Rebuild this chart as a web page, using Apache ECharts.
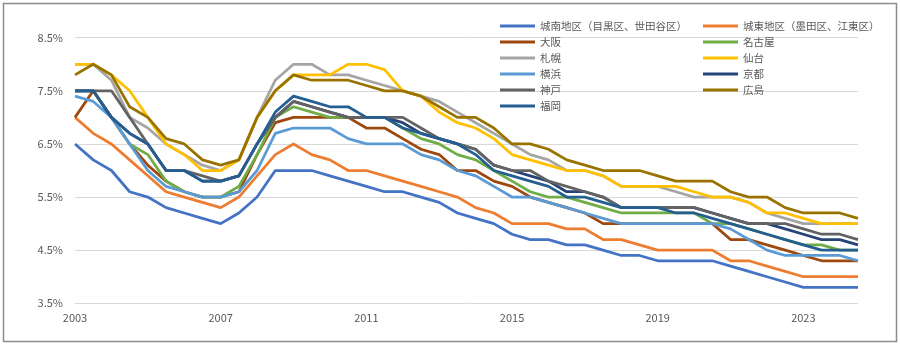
<!DOCTYPE html>
<html>
<head>
<meta charset="utf-8">
<script src="https://cdn.jsdelivr.net/npm/echarts@6/dist/echarts.min.js"></script>
<style>
  html, body { margin: 0; padding: 0; background: #ffffff; }
  #chart { width: 900px; height: 348px; }
</style>
</head>
<body>
<div id="chart"></div>
<script>
// Half-yearly survey points, 2003 to 2024 (two per year)
const years = [];
for (let y = 2003; y <= 2024; y++) { years.push(String(y), String(y)); }

const jonan   = [6.5,6.2,6.0,5.6,5.5,5.3,5.2,5.1,5.0,5.2,5.5,6.0,6.0,6.0,5.9,5.8,5.7,5.6,5.6,5.5,5.4,5.2,5.1,5.0,4.8,4.7,4.7,4.6,4.6,4.5,4.4,4.4,4.3,4.3,4.3,4.3,4.2,4.1,4.0,3.9,3.8,3.8,3.8,3.8];
const joto    = [7.0,6.7,6.5,6.2,5.9,5.6,5.5,5.4,5.3,5.5,5.9,6.3,6.5,6.3,6.2,6.0,6.0,5.9,5.8,5.7,5.6,5.5,5.3,5.2,5.0,5.0,5.0,4.9,4.9,4.7,4.7,4.6,4.5,4.5,4.5,4.5,4.3,4.3,4.2,4.1,4.0,4.0,4.0,4.0];
const osaka   = [7.0,7.5,7.0,6.5,6.1,5.8,5.6,5.5,5.5,5.6,6.3,6.9,7.0,7.0,7.0,7.0,6.8,6.8,6.6,6.4,6.3,6.0,6.0,5.8,5.7,5.5,5.4,5.3,5.2,5.0,5.0,5.0,5.0,5.0,5.0,5.0,4.7,4.7,4.6,4.5,4.4,4.3,4.3,4.3];
const nagoya  = [7.5,7.5,7.0,6.5,6.3,5.8,5.6,5.5,5.5,5.7,6.3,7.0,7.2,7.1,7.0,7.0,7.0,7.0,6.8,6.6,6.5,6.3,6.2,6.0,5.8,5.6,5.5,5.5,5.4,5.3,5.2,5.2,5.2,5.2,5.2,5.0,5.0,4.9,4.8,4.7,4.6,4.6,4.5,4.5];
const sapporo = [8.0,8.0,7.7,7.0,6.8,6.5,6.3,6.1,6.0,6.2,7.0,7.7,8.0,8.0,7.8,7.8,7.7,7.6,7.5,7.4,7.3,7.1,6.9,6.7,6.5,6.3,6.2,6.0,6.0,5.9,5.7,5.7,5.7,5.6,5.5,5.5,5.5,5.4,5.2,5.1,5.0,5.0,5.0,5.0];
const sendai  = [8.0,8.0,7.8,7.5,7.0,6.5,6.3,6.0,6.0,6.2,7.0,7.5,7.8,7.8,7.8,8.0,8.0,7.9,7.5,7.4,7.1,6.9,6.8,6.6,6.3,6.2,6.1,6.0,6.0,5.9,5.7,5.7,5.7,5.7,5.6,5.5,5.5,5.4,5.2,5.2,5.1,5.0,5.0,5.0];
const yokohama= [7.4,7.3,7.0,6.5,6.0,5.7,5.6,5.5,5.5,5.6,6.0,6.7,6.8,6.8,6.8,6.6,6.5,6.5,6.5,6.3,6.2,6.0,5.9,5.7,5.5,5.5,5.4,5.3,5.2,5.1,5.0,5.0,5.0,5.0,5.0,5.0,4.9,4.7,4.5,4.4,4.4,4.4,4.4,4.3];
const kyoto   = [7.5,7.5,7.0,6.7,6.5,6.0,6.0,5.8,5.8,5.9,6.5,7.0,7.3,7.2,7.1,7.0,7.0,7.0,6.9,6.7,6.6,6.5,6.4,6.1,6.0,5.9,5.8,5.6,5.6,5.5,5.3,5.3,5.3,5.3,5.3,5.2,5.1,5.0,5.0,4.9,4.8,4.7,4.7,4.6];
const kobe    = [7.5,7.5,7.5,7.0,6.5,6.0,6.0,5.9,5.8,5.9,6.5,7.0,7.3,7.2,7.1,7.0,7.0,7.0,7.0,6.8,6.6,6.5,6.4,6.1,6.0,6.0,5.8,5.7,5.6,5.5,5.3,5.3,5.3,5.3,5.3,5.2,5.1,5.0,5.0,5.0,4.9,4.8,4.8,4.7];
const hiroshima=[7.8,8.0,7.8,7.2,7.0,6.6,6.5,6.2,6.1,6.2,7.0,7.5,7.8,7.7,7.7,7.7,7.6,7.5,7.5,7.4,7.2,7.0,7.0,6.8,6.5,6.5,6.4,6.2,6.1,6.0,6.0,6.0,5.9,5.8,5.8,5.8,5.6,5.5,5.5,5.3,5.2,5.2,5.2,5.1];
const fukuoka = [7.5,7.5,7.0,6.7,6.5,6.0,6.0,5.8,5.8,5.9,6.5,7.1,7.4,7.3,7.2,7.2,7.0,7.0,6.8,6.7,6.6,6.5,6.3,6.0,5.9,5.8,5.7,5.5,5.5,5.4,5.3,5.3,5.3,5.2,5.2,5.1,5.0,4.9,4.8,4.7,4.6,4.5,4.5,4.5];

const seriesDefs = [
  { name: '城南地区（目黒区、世田谷区）', data: jonan,    color: '#4472C4' },
  { name: '城東地区（墨田区、江東区）',   data: joto,     color: '#ED7D31' },
  { name: '大阪',   data: osaka,     color: '#9E480E' },
  { name: '名古屋', data: nagoya,    color: '#70AD47' },
  { name: '札幌',   data: sapporo,   color: '#A5A5A5' },
  { name: '仙台',   data: sendai,    color: '#FFC000' },
  { name: '横浜',   data: yokohama,  color: '#5B9BD5' },
  { name: '京都',   data: kyoto,     color: '#264478' },
  { name: '神戸',   data: kobe,      color: '#636363' },
  { name: '広島',   data: hiroshima, color: '#997300' },
  { name: '福岡',   data: fukuoka,   color: '#255E91' }
];

const yTicks = { min: 3.5, max: 8.5, step: 1 };

const FONT = '"Noto Sans CJK JP", "Noto Sans", sans-serif';
const TEXT = '#595959';

const legendCommon = {
  orient: 'vertical',
  icon: 'rect',
  padding: 0,
  itemWidth: 35,
  itemHeight: 3,
  itemGap: 2,
  textStyle: { color: TEXT, fontSize: 10.5, fontFamily: FONT, lineHeight: 14 },
  selectedMode: false
};

const chart = echarts.init(document.getElementById('chart'), null, { renderer: 'canvas' });
chart.setOption({
  animation: false,
  backgroundColor: '#ffffff',
  color: seriesDefs.map(s => s.color),
  graphic: [{
    type: 'rect',
    shape: { x: 3.5, y: 3.5, width: 893, height: 338 },
    style: { fill: 'none', stroke: '#8c8c8c', lineWidth: 1.5 },
    silent: true
  }],
  legend: [
    Object.assign({ left: 500, top: 19, data: seriesDefs.filter((_, i) => i % 2 === 0).map(s => s.name) }, legendCommon),
    Object.assign({ left: 703, top: 19, data: seriesDefs.filter((_, i) => i % 2 === 1).map(s => s.name) }, legendCommon)
  ],
  grid: { left: 75, right: 42, top: 37.7, bottom: 44.7, containLabel: false },
  xAxis: {
    type: 'category',
    data: years,
    boundaryGap: false,
    axisLine: { show: false },
    axisTick: { show: false },
    axisLabel: { interval: 7, color: TEXT, fontSize: 11, fontFamily: FONT, margin: 9 },
    splitLine: { show: false }
  },
  yAxis: {
    type: 'value',
    min: yTicks.min,
    max: yTicks.max,
    interval: yTicks.step,
    axisLine: { show: false },
    axisTick: { show: false },
    axisLabel: { color: TEXT, fontSize: 11, fontFamily: FONT, margin: 12, formatter: v => v.toFixed(1) + '%' },
    splitLine: { lineStyle: { color: '#d9d9d9', width: 1 } }
  },
  series: seriesDefs.map(s => ({
    name: s.name,
    type: 'line',
    data: s.data,
    showSymbol: false,
    symbol: 'none',
    lineStyle: { width: 2.75, color: s.color, join: 'round' },
    itemStyle: { color: s.color }
  }))
});
</script>
</body>
</html>
